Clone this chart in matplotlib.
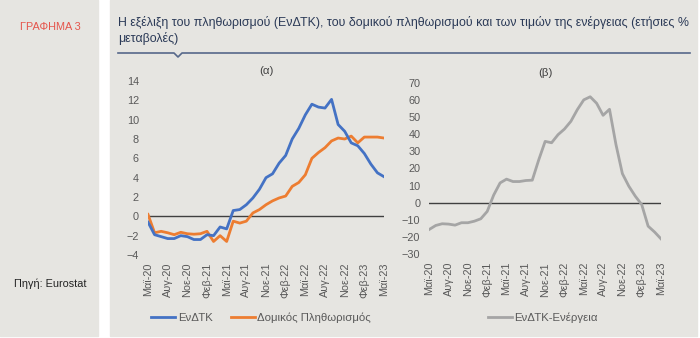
import matplotlib
matplotlib.use("Agg")
import matplotlib.pyplot as plt
from matplotlib.patches import Rectangle
from matplotlib.lines import Line2D

plt.rcParams['font.family'] = ['Liberation Sans', 'DejaVu Sans']

# monthly data, May 2020 - May 2023
months = ['Μαϊ-20', 'Ιουν-20', 'Ιουλ-20', 'Αυγ-20', 'Σεπ-20', 'Οκτ-20', 'Νοε-20', 'Δεκ-20',
          'Ιαν-21', 'Φεβ-21', 'Μαρ-21', 'Απρ-21', 'Μαϊ-21', 'Ιουν-21', 'Ιουλ-21', 'Αυγ-21',
          'Σεπ-21', 'Οκτ-21', 'Νοε-21', 'Δεκ-21', 'Ιαν-22', 'Φεβ-22', 'Μαρ-22', 'Απρ-22',
          'Μαϊ-22', 'Ιουν-22', 'Ιουλ-22', 'Αυγ-22', 'Σεπ-22', 'Οκτ-22', 'Νοε-22', 'Δεκ-22',
          'Ιαν-23', 'Φεβ-23', 'Μαρ-23', 'Απρ-23', 'Μαϊ-23']

hicp = [-0.6, -1.9, -2.1, -2.3, -2.3, -2.0, -2.1, -2.4, -2.4, -1.9,
        -2.0, -1.1, -1.3, 0.6, 0.7, 1.2, 1.9, 2.8, 4.0, 4.4,
        5.5, 6.3, 8.0, 9.1, 10.5, 11.6, 11.3, 11.2, 12.1, 9.5,
        8.8, 7.6, 7.3, 6.5, 5.4, 4.5, 4.1]

core = [0.2, -1.7, -1.55, -1.7, -1.9, -1.65, -1.8, -1.85, -1.8, -1.55,
        -2.6, -2.0, -2.6, -0.5, -0.7, -0.5, 0.35, 0.7, 1.2, 1.6,
        1.9, 2.1, 3.1, 3.5, 4.3, 6.0, 6.6, 7.1, 7.8, 8.1,
        8.0, 8.3, 7.6, 8.2, 8.2, 8.2, 8.1]

energy = [-15.5, -13.2, -12.2, -12.4, -13.0, -11.6, -11.6, -10.7, -9.3, -5.0,
          4.5, 11.6, 13.8, 12.4, 12.4, 13.0, 13.2, 25.0, 35.8, 35.0,
          39.7, 43.0, 47.5, 54.3, 60.0, 61.8, 58.0, 51.0, 54.5, 34.0,
          17.0, 9.7, 3.9, -1.0, -13.6, -17.0, -21.0]

title = ("Η εξέλιξη του πληθωρισμού (ΕνΔΤΚ), του δομικού πληθωρισμού και των τιμών της ενέργειας (ετήσιες %\n"
         "μεταβολές)")

W, H = 700, 338
bg = '#E6E5E1'
tick_col = '#595959'

fig = plt.figure(figsize=(7, 3.38), dpi=100)
fig.patch.set_facecolor('white')

def fx(px):
    return px / W

def fy(py):
    return 1 - py / H

# grey side panel and main panel
fig.patches.append(Rectangle((0, fy(336)), fx(98), fy(0) - fy(336),
                             transform=fig.transFigure, color=bg, zorder=-10))
fig.patches.append(Rectangle((fx(110), fy(336)), fx(697) - fx(110), fy(0) - fy(336),
                             transform=fig.transFigure, color=bg, zorder=-10))

fig.text(fx(20), fy(27), 'ΓΡΑΦΗΜΑ 3', color='#E5544B', fontsize=7.8, va='center')
fig.text(fx(14), fy(284), 'Πηγή: Eurostat', color='#222222', fontsize=7.8, va='center')
fig.text(fx(118), fy(16), title, color='#2B3A57', fontsize=8.9, va='top', linespacing=1.3)

# underline with small notch
xs = [118, 174, 178, 182, 690]
ys = [53, 53, 57, 53, 53]
fig.lines.append(Line2D([fx(v) for v in xs], [fy(v) for v in ys],
                        transform=fig.transFigure, color='#56688A', lw=1.2))

x = list(range(len(months)))
tick_pos = x[::3]
tick_lab = months[::3]

def style(ax, lo, hi, step, label):
    ax.set_facecolor('none')
    for s in ax.spines.values():
        s.set_visible(False)
    ax.set_xlim(0, len(months) - 1)
    ax.set_ylim(lo, hi)
    ax.set_yticks(range(lo, hi + 1, step))
    ax.set_xticks(tick_pos)
    ax.set_xticklabels(tick_lab, rotation=90)
    ax.tick_params(axis='both', length=0, labelsize=7.8, labelcolor=tick_col)
    ax.tick_params(axis='y', pad=6.5)
    ax.tick_params(axis='x', pad=5.5)
    ax.axhline(0, color='#404040', lw=1, zorder=1)
    ax.set_title(label, fontsize=8.2, color='#404040', pad=5)

ax1 = fig.add_axes([fx(148), fy(255), fx(384) - fx(148), fy(81) - fy(255)])
style(ax1, -4, 14, 2, '(α)')
ax1.plot(x, hicp, color='#4472C4', lw=2, label='ΕνΔΤΚ', zorder=3)
ax1.plot(x, core, color='#ED7D31', lw=2, label='Δομικός Πληθωρισμός', zorder=2)

ax2 = fig.add_axes([fx(429.3), fy(254.3), fx(661) - fx(429.3), fy(82.7) - fy(254.3)])
style(ax2, -30, 70, 10, '(β)')
ax2.plot(x, energy, color='#A5A5A5', lw=2, label='ΕνΔΤΚ-Ενέργεια', zorder=2)

leg_kw = dict(frameon=False, fontsize=8.2, handlelength=2.1, handletextpad=0.2,
              columnspacing=1.6, labelcolor=tick_col, loc='center')
fig.legend(*ax1.get_legend_handles_labels(), ncol=2,
           bbox_to_anchor=(fx(261), fy(318)), **leg_kw)
fig.legend(*ax2.get_legend_handles_labels(), ncol=1,
           bbox_to_anchor=(fx(543), fy(318)), **leg_kw)

fig.savefig('out.png', dpi=100, facecolor='white')
